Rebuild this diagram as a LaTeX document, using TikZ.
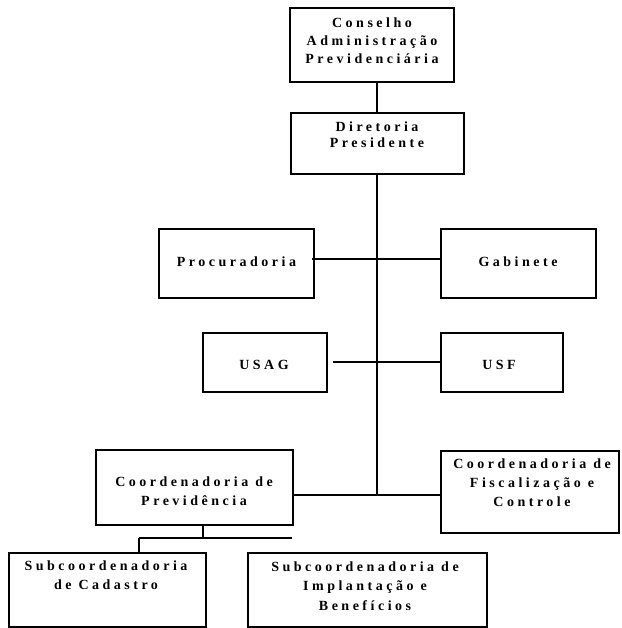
\documentclass[tikz,border=0pt]{standalone}
\usepackage{fontspec}
\newfontfamily\orgfont{Liberation Serif}[LetterSpace=25]
\begin{document}
\begin{tikzpicture}[x=1pt,y=-1pt,
  box/.style={draw=black, line width=2pt, fill=white, inner sep=0pt, outer sep=0pt, rectangle},
  orgtext/.style={inner sep=0pt, outer sep=0pt, align=center, anchor=base, text=black,
     font=\orgfont\bfseries\fontsize{14}{19}\selectfont},
  link/.style={draw=black, line width=2pt}]
\useasboundingbox (0,0) rectangle (621,628);
% boxes
\node[box, minimum width=164pt, minimum height=74pt] (cons) at (372,45) {};
\node[box, minimum width=173pt, minimum height=61pt] (dir) at (377.5,143.5) {};
\node[box, minimum width=155pt, minimum height=69pt] (proc) at (236.5,263.5) {};
\node[box, minimum width=155pt, minimum height=69pt] (gab) at (518.5,263.5) {};
\node[box, minimum width=124pt, minimum height=59pt] (usag) at (265,362.5) {};
\node[box, minimum width=122pt, minimum height=59pt] (usf) at (502,362.5) {};
\node[box, minimum width=197pt, minimum height=75pt] (prev) at (194.5,487.5) {};
\node[box, minimum width=178pt, minimum height=82pt] (fisc) at (530,492) {};
\node[box, minimum width=197pt, minimum height=74pt] (cad) at (107.5,590) {};
\node[box, minimum width=239pt, minimum height=74pt] (imp) at (367.5,590) {};
% texts (anchored at the baseline of their last line)
\node[orgtext, font=\orgfont\bfseries\fontsize{14}{18}\selectfont] (tcons) at (372,64) {Conselho\\Administração\\Previdenciária};
\node[orgtext, font=\orgfont\bfseries\fontsize{14}{16}\selectfont] (tdir) at (377,148) {Diretoria\\Presidente};
\node[orgtext] (tproc) at (236.5,266) {Procuradoria};
\node[orgtext] (tgab) at (518,266) {Gabinete};
\node[orgtext] (tusag) at (264,369) {USAG};
\node[orgtext] (tusf) at (499,369) {USF};
\node[orgtext] (tprev) at (194,505) {Coordenadoria de\\Previdência};
\node[orgtext] (tfisc) at (532,506) {Coordenadoria de\\Fiscalização e\\Controle};
\node[orgtext, font=\orgfont\bfseries\fontsize{14}{19.5}\selectfont] (tcad) at (106,589.5) {Subcoordenadoria\\de Cadastro};
\node[orgtext, font=\orgfont\bfseries\fontsize{14}{19.5}\selectfont] (timp) at (365,610) {Subcoordenadoria de\\Implantação e\\Benefícios};
% connectors
\coordinate (jtop) at (377,82);
\coordinate (jprev) at (377,495);
\coordinate (busL) at (139,538);
\coordinate (busR) at (292,538);
\coordinate (drop) at (203,525);
\draw[link] (jtop) -- (jtop |- dir.north);
\draw[link] (jtop |- dir.south) -- (jprev);
\draw[link] ([yshift=4.5pt,xshift=-2pt]proc.east) -- ([yshift=4.5pt]gab.west);
\draw[link] ([xshift=6pt,yshift=0.5pt]usag.east) -- ([yshift=0.5pt]usf.west);
\draw[link] (jprev -| prev.east) -- (jprev -| fisc.west);
\draw[link] (drop) -- (drop |- busL);
\draw[link] (busL) -- (busR);
\draw[link] (busL) -- (busL |- cad.north);
\end{tikzpicture}
\end{document}
